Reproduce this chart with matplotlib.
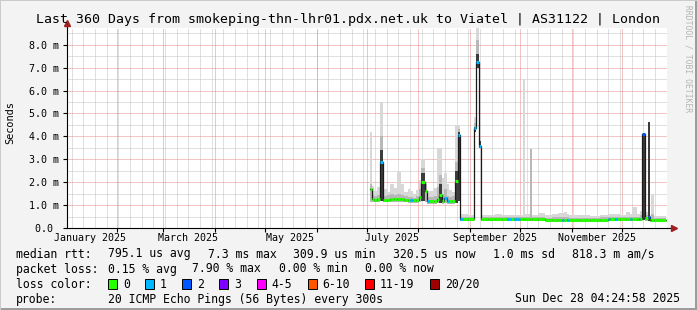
import numpy as np
import matplotlib
matplotlib.use("Agg")
import matplotlib.pyplot as plt
import matplotlib.dates as mdates
from matplotlib.patches import Rectangle
from datetime import datetime, timedelta

W, H = 697, 310
start = datetime(2025, 1, 2, 4, 24, 58)
end = datetime(2025, 12, 28, 4, 24, 58)

# days after start, median rtt in ms, lost pings, smoke bands in ms (0 = no dark band)
days = [181.8, 182.7, 184.2, 186.0, 188.1, 189.6, 192.0, 193.8, 196.2, 198.0,
        200.4, 202.2, 204.6, 205.8, 207.6, 209.4, 211.2, 212.4, 215.1, 216.3,
        217.5, 220.2, 222.3, 223.5, 224.7, 226.5, 228.3, 229.5, 231.0, 233.1,
        234.6, 236.1, 237.6, 240.6, 244.2, 245.4, 247.2, 248.4, 252.6, 256.8,
        261.0, 264.0, 266.4, 268.2, 271.8, 273.6, 274.8, 278.1, 278.7, 282.6,
        286.8, 291.0, 294.6, 297.0, 298.2, 300.0, 301.2, 307.8, 313.8, 319.8,
        324.6, 325.8, 328.8, 330.0, 331.8, 335.4, 337.8, 339.0, 342.0, 342.9,
        344.1, 345.0, 346.8, 348.6, 349.8, 350.4, 351.9, 359.4]
median = [1.70, 1.26, 1.24, 1.25, 2.90, 1.24, 1.24, 1.28, 1.25, 1.25,
          1.25, 1.23, 1.22, 1.22, 1.22, 1.24, 1.35, 2.00, 1.60, 1.17,
          1.17, 1.17, 1.25, 1.45, 1.20, 1.30, 1.17, 1.17, 1.20, 2.06,
          4.05, 0.39, 0.39, 0.38, 4.37, 7.26, 3.60, 0.39, 0.39, 0.40,
          0.39, 0.39, 0.39, 0.39, 0.39, 0.39, 0.39, 0.39, 0.39, 0.39,
          0.37, 0.37, 0.37, 0.37, 0.37, 0.37, 0.37, 0.37, 0.37, 0.37,
          0.38, 0.38, 0.40, 0.38, 0.38, 0.38, 0.40, 0.38, 0.38, 0.38,
          0.38, 4.10, 0.42, 0.49, 0.35, 0.35, 0.33, 0.33]
loss = [0, 0, 0, 0, 1, 0, 0, 0, 0, 0,
        0, 0, 0, 1, 0, 0, 0, 0, 0, 1,
        0, 0, 0, 0, 0, 1, 1, 0, 0, 0,
        1, 1, 0, 0, 1, 1, 1, 0, 0, 0,
        0, 1, 0, 1, 0, 0, 0, 0, 0, 0,
        0, 0, 0, 1, 0, 1, 0, 0, 0, 0,
        1, 0, 1, 0, 0, 0, 1, 0, 0, 1,
        0, 2, 0, 2, 0, 0, 0, 0]
smoke_lo = [1.15, 1.15, 1.15, 1.15, 1.20, 1.12, 1.12, 1.15, 1.15, 1.15,
            1.15, 1.12, 1.10, 1.10, 1.10, 1.10, 1.15, 1.20, 1.12, 1.05,
            1.05, 1.05, 1.10, 1.10, 1.05, 1.10, 1.05, 1.05, 1.05, 1.10,
            1.20, 0.32, 0.32, 0.32, 4.20, 7.00, 3.50, 0.32, 0.32, 0.33,
            0.32, 0.32, 0.32, 0.32, 0.32, 0.32, 0.32, 0.32, 0.32, 0.32,
            0.30, 0.30, 0.30, 0.30, 0.30, 0.30, 0.30, 0.30, 0.30, 0.30,
            0.30, 0.30, 0.30, 0.30, 0.30, 0.30, 0.30, 0.30, 0.30, 0.30,
            0.30, 0.35, 0.30, 0.30, 0.28, 0.28, 0.28, 0.28]
smoke_mid = [1.90, 1.45, 1.40, 1.45, 4.00, 1.40, 1.45, 1.50, 1.45, 1.50,
             1.45, 1.40, 1.35, 1.35, 1.30, 1.40, 1.70, 2.60, 1.90, 1.35,
             1.35, 1.40, 1.80, 2.30, 1.50, 1.70, 1.40, 1.35, 1.40, 2.90,
             4.30, 0.50, 0.48, 0.47, 4.60, 8.20, 3.80, 0.48, 0.47, 0.50,
             0.47, 0.47, 0.47, 0.47, 0.47, 0.50, 0.47, 3.45, 0.47, 0.48,
             0.45, 0.46, 0.47, 0.47, 0.46, 0.46, 0.45, 0.45, 0.45, 0.46,
             0.46, 0.46, 0.46, 0.46, 0.46, 0.50, 0.50, 0.50, 0.50, 0.50,
             0.55, 4.10, 0.55, 4.62, 0.45, 0.60, 0.42, 0.42]
smoke_hi = [4.20, 1.85, 1.60, 1.80, 5.50, 1.70, 1.55, 1.90, 1.75, 2.45,
            1.90, 1.55, 1.70, 1.60, 1.50, 1.65, 2.10, 3.00, 1.95, 1.60,
            1.60, 1.75, 3.50, 3.50, 2.20, 2.40, 1.90, 1.65, 1.55, 4.50,
            4.50, 0.60, 0.60, 0.55, 4.85, 8.73, 3.97, 0.58, 0.55, 0.62,
            0.56, 0.56, 0.56, 0.56, 0.55, 6.50, 0.60, 3.45, 0.58, 0.64,
            0.55, 0.60, 0.66, 0.66, 0.72, 0.60, 0.55, 0.58, 0.52, 0.56,
            0.60, 0.60, 0.60, 0.60, 0.58, 0.70, 0.60, 0.93, 0.60, 0.60,
            0.75, 4.10, 0.70, 4.62, 0.55, 1.43, 0.52, 0.52]
smoke_dark = [0, 0, 0, 0, 3.40, 0, 0, 0, 0, 0,
              0, 0, 0, 0, 0, 0, 0, 2.40, 0, 0,
              0, 0, 0, 1.90, 0, 0, 0, 0, 0, 2.50,
              4.20, 0, 0, 0, 4.40, 7.60, 3.80, 0, 0, 0,
              0, 0, 0, 0, 0, 0, 0, 0, 0, 0,
              0, 0, 0, 0, 0, 0, 0, 0, 0, 0,
              0, 0, 0, 0, 0, 0, 0, 0, 0, 0,
              0, 4.10, 0, 4.62, 0, 0, 0, 0]

loss_colors = ['#26ff00', '#00b8ff', '#0059ff', '#7e00ff', '#ff00ff', '#ff5500', '#ff0000', '#a10000']
loss_labels = ['0', '1', '2', '3', '4-5', '6-10', '11-19', '20/20']
month_labels = ['January 2025', 'March 2025', 'May 2025', 'July 2025', 'September 2025', 'November 2025']

plt.rcParams['font.family'] = ['DejaVu Sans Mono']

t0 = mdates.date2num(start)
t1 = mdates.date2num(end)
t = t0 + np.array(days)
med = np.array(median)
lo = np.array(smoke_lo)
mid = np.array(smoke_mid)
hi = np.array(smoke_hi)
dark = np.array(smoke_dark)

fig = plt.figure(figsize=(W / 100, H / 100), dpi=100, facecolor='#f3f3f3')
ax = fig.add_axes([67 / W, 1 - 228 / H, 600 / W, 200 / H])
ax.set_facecolor('white')
ax.set_xlim(t0, t1)
ax.set_ylim(0, 8.73)

# smoke
ax.fill_between(t, lo, hi, step='post', color='#d8d8d8', lw=0, zorder=2)
ax.fill_between(t, lo, mid, step='post', color='#b8b8b8', lw=0, zorder=3)
ax.fill_between(t, lo, np.maximum(dark, lo), step='post', color='#3c3c3c', lw=0, zorder=4)

# median line, black then loss colours
ax.step(t, med, where='post', color='#1a1a1a', lw=0.9, zorder=5)
for i in range(len(t) - 1):
    ax.hlines(med[i], t[i], t[i + 1], colors=loss_colors[loss[i]], lw=2.2, zorder=6)

# grid
dot = (0, (1, 1))
gkw = dict(lw=0.72, ls=dot, zorder=1)
for w in mdates.WeekdayLocator(byweekday=mdates.SU).tick_values(start, end):
    ax.axvline(w, color='#c2c2c2', **gkw)
for yv in np.arange(0.5, 8.73, 1.0):
    ax.axhline(yv, color='#c2c2c2', **gkw)
for m in mdates.MonthLocator().tick_values(start, end):
    if t0 < m < t1:
        ax.axvline(m, color='#e68a8a', **gkw)
for yv in range(1, 9):
    ax.axhline(yv, color='#e68a8a', **gkw)

# axes
for s in ['top', 'right']:
    ax.spines[s].set_visible(False)
ax.spines['left'].set_linewidth(0.8)
ax.spines['bottom'].set_linewidth(0.8)
ax.spines['left'].set_zorder(7)
ax.spines['bottom'].set_zorder(7)
ax.plot([1.0, 1.012], [0, 0], transform=ax.transAxes, color='black', lw=0.8, clip_on=False)
ax.plot([0, 0], [1.0, 1.02], transform=ax.transAxes, color='black', lw=0.8, clip_on=False)
ax.plot([1.012], [0], transform=ax.transAxes, marker='>', ms=4.5, color='#a02020', clip_on=False)
ax.plot([0], [1.025], transform=ax.transAxes, marker='^', ms=4.5, color='#a02020', clip_on=False)

ax.set_yticks(range(0, 9))
ax.set_yticklabels(['0.0 '] + ['%.1f m' % v for v in range(1, 9)])
ax.tick_params(axis='y', length=3, width=0.8, pad=2.5, labelsize=7.2)

month_starts = [m for m in mdates.MonthLocator().tick_values(start, end) if t0 < m < t1]
ax.set_xticks(month_starts)
ax.set_xticklabels([])
ax.tick_params(axis='x', which='major', length=3, width=0.8)
label_pos = [mdates.date2num(datetime(2025, mo, 16)) for mo in (1, 3, 5, 7, 9, 11)]
ax.set_xticks(label_pos, minor=True)
ax.set_xticklabels(month_labels, minor=True)
ax.tick_params(axis='x', which='minor', length=0, pad=3.5, labelsize=7.2)

# texts
def ftext(x, y, s, **kw):
    fig.text(x / W, 1 - y / H, s, va='center', **kw)

ftext(348.5, 19, 'Last 360 Days from smokeping-thn-lhr01.pdx.net.uk to Viatel | AS31122 | London',
      ha='center', fontsize=9.5)
ftext(10, 123, 'Seconds', ha='center', rotation=90, fontsize=7.4)
ftext(688, 59, 'RRDTOOL / TOBI OETIKER', ha='center', rotation=270, fontsize=5.8, color='#b4b4b4')

fs = 8.3
ftext(16, 254, 'median rtt:', fontsize=fs)
for x, s in [(107.5, '795.1 us avg'), (207.5, '7.3 ms max'), (293, '309.9 us min'),
             (393, '320.5 us now'), (493, '1.0 ms sd'), (572, '818.3 m am/s')]:
    ftext(x, 254, s, fontsize=fs)
ftext(16, 269, 'packet loss:', fontsize=fs)
for x, s in [(107.5, '0.15 % avg'), (192, '7.90 % max'), (279, '0.00 % min'), (365, '0.00 % now')]:
    ftext(x, 269, s, fontsize=fs)
ftext(16, 284, 'loss color:', fontsize=fs)
box_x = [108, 145, 182, 219, 256.5, 307.5, 365, 430]
for bx, c, lab in zip(box_x, loss_colors, loss_labels):
    fig.add_artist(Rectangle((bx / W, 1 - 289 / H), 9 / W, 10 / H, transform=fig.transFigure,
                             facecolor=c, edgecolor='black', lw=0.7))
    ftext(bx + 15, 284, lab, fontsize=fs)
ftext(16, 299, 'probe:', fontsize=fs)
ftext(107.5, 299, '20 ICMP Echo Pings (56 Bytes) every 300s', fontsize=fs)
ftext(680, 299, 'Sun Dec 28 04:24:58 2025', ha='right', fontsize=fs)

# frame shading
fig.add_artist(Rectangle((0, 0), 1, 2 / H, transform=fig.transFigure, color='#9c9c9c', lw=0))
fig.add_artist(Rectangle((1 - 2 / W, 0), 2 / W, 1, transform=fig.transFigure, color='#9c9c9c', lw=0))
fig.add_artist(Rectangle((0, 1 - 1 / H), 1, 1 / H, transform=fig.transFigure, color='#cbcbcb', lw=0))
fig.add_artist(Rectangle((0, 0), 1 / W, 1, transform=fig.transFigure, color='#cbcbcb', lw=0))

fig.savefig('out.png', dpi=100, facecolor=fig.get_facecolor())
